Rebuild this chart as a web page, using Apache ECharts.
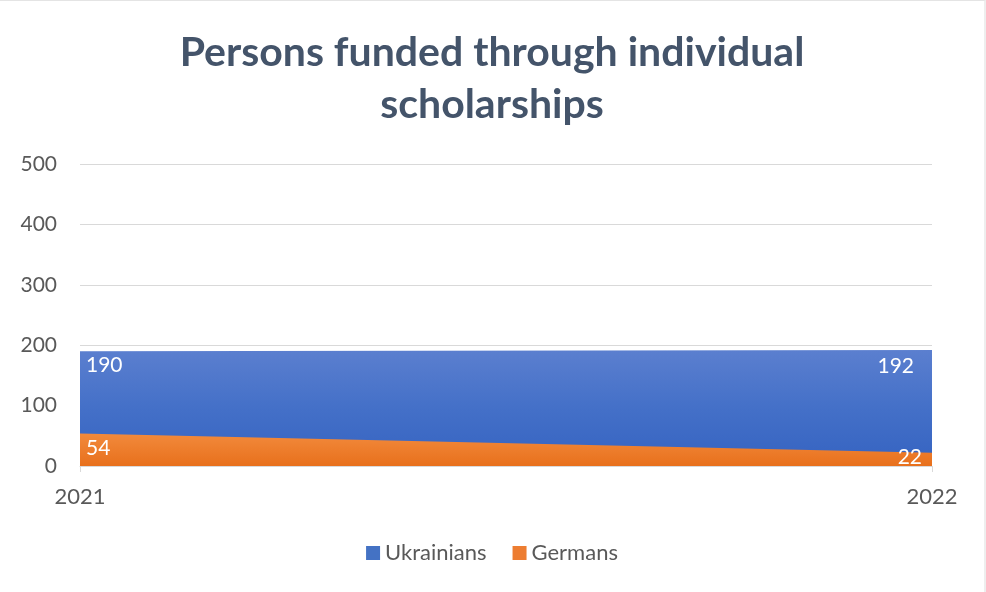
<!DOCTYPE html>
<html>
<head>
<meta charset="utf-8">
<script src="https://cdn.jsdelivr.net/npm/echarts@6/dist/echarts.min.js"></script>
<style>
html,body{margin:0;padding:0;background:#fff;}
#c{width:986px;height:592px;box-sizing:border-box;border-top:1px solid #e4e4e4;border-right:2px solid #eeeeee;}
</style>
</head>
<body>
<div id="c"></div>
<script>
var titleText = 'Persons funded through individual\nscholarships';
var categories = ['2021', '2022'];
var ukrainians = [190, 192];
var germans = [54, 22];
var yTicks = [0, 100, 200, 300, 400, 500];

var chart = echarts.init(document.getElementById('c'));
var font = 'Lato, Carlito, Calibri, sans-serif';
function lbl(pos, off) {
  return { show: true, position: pos, offset: off, distance: 6 };
}
chart.setOption({
  animation: false,
  title: {
    text: titleText,
    left: 'center',
    top: 21,
    textStyle: { fontFamily: font, fontSize: 41, fontWeight: 'bold', color: '#44546a', lineHeight: 52 }
  },
  legend: {
    bottom: 23,
    left: 'center',
    icon: 'rect',
    itemWidth: 14,
    itemHeight: 14,
    itemGap: 26,
    textStyle: { fontFamily: font, fontSize: 22, color: '#595959' },
    data: ['Ukrainians', 'Germans']
  },
  grid: { left: 80, right: 52, top: 163, bottom: 126 },
  xAxis: {
    type: 'category',
    data: categories,
    boundaryGap: false,
    axisLine: { lineStyle: { color: '#d9d9d9' } },
    axisTick: { show: true, length: 6, lineStyle: { color: '#d9d9d9' } },
    axisLabel: { fontFamily: font, fontSize: 22, color: '#595959', margin: 20 }
  },
  yAxis: {
    type: 'value',
    min: yTicks[0],
    max: yTicks[yTicks.length - 1],
    interval: 100,
    axisLine: { show: false },
    axisTick: { show: false },
    splitLine: { lineStyle: { color: '#d9d9d9' } },
    axisLabel: { fontFamily: font, fontSize: 21, color: '#595959', margin: 23 }
  },
  series: [
    {
      name: 'Ukrainians',
      type: 'line',
      symbol: 'circle',
      symbolSize: 0,
      itemStyle: { color: '#4472c4' },
      lineStyle: { width: 0 },
      areaStyle: {
        opacity: 1,
        color: new echarts.graphic.LinearGradient(0, 0, 0, 1, [
          { offset: 0, color: '#5b7fcf' },
          { offset: 0.5, color: '#4470c8' },
          { offset: 1, color: '#3563c1' }
        ])
      },
      label: { fontFamily: font, fontSize: 21, color: '#ffffff' },
      data: [
        { value: ukrainians[0], label: lbl('right', [0, 14]) },
        { value: ukrainians[1], label: lbl('left', [-12, 16]) }
      ],
      z: 2
    },
    {
      name: 'Germans',
      type: 'line',
      symbol: 'circle',
      symbolSize: 0,
      itemStyle: { color: '#ed7d31' },
      lineStyle: { width: 0 },
      areaStyle: {
        opacity: 1,
        color: new echarts.graphic.LinearGradient(0, 0, 0, 1, [
          { offset: 0, color: '#f28a3c' },
          { offset: 1, color: '#e8701c' }
        ])
      },
      label: { fontFamily: font, fontSize: 21, color: '#ffffff' },
      data: [
        { value: germans[0], label: lbl('right', [0, 15]) },
        { value: germans[1], label: lbl('left', [-4, 5]) }
      ],
      z: 3
    }
  ]
});
</script>
</body>
</html>
